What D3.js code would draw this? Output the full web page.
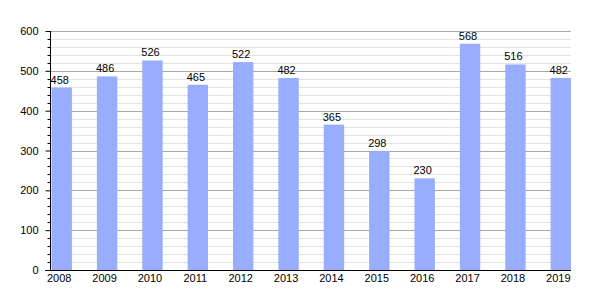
<!DOCTYPE html>
<html>
<head>
<meta charset="utf-8">
<script src="https://cdn.jsdelivr.net/npm/d3@7"></script>
<style>
  body { margin: 0; background: #fff; }
  svg text { font-family: "Liberation Sans", Arial, sans-serif; font-size: 11px; fill: #000; }
</style>
</head>
<body>
<div id="graphique"></div>
<script>
const annees = ["2008", "2009", "2010", "2011", "2012", "2013", "2014", "2015", "2016", "2017", "2018", "2019"];
const valeurs = [458, 486, 526, 465, 522, 482, 365, 298, 230, 568, 516, 482];
const ticksMajeurs = [0, 100, 200, 300, 400, 500, 600];

function AffichageGraph(data) {
    const width = 600, height = 300;
    const left = 50, right = 571, top = 31, bottom = 270;

    const svg = d3.select("#graphique").append("svg")
        .attr("width", width)
        .attr("height", height);

    const yScale = d3.scaleLinear()
        .domain([0, 600])
        .range([bottom, top]);

    const xScale = d3.scaleBand()
        .domain(data.map(d => d.annee))
        .range([left + 1.5, right])
        .paddingInner(0.55)
        .paddingOuter(0);

    // grille secondaire (tous les 20)
    svg.selectAll(".grid-minor")
        .data(d3.range(20, 600, 20).filter(v => v % 100 !== 0))
        .enter()
        .append("line")
        .attr("x1", left)
        .attr("x2", right)
        .attr("y1", d => Math.round(yScale(d)) + 0.5)
        .attr("y2", d => Math.round(yScale(d)) + 0.5)
        .style("stroke", "#e2e2e2")
        .style("stroke-width", 1);

    // grille principale
    svg.selectAll(".grid-major")
        .data(ticksMajeurs.filter(v => v > 0))
        .enter()
        .append("line")
        .attr("x1", left)
        .attr("x2", right)
        .attr("y1", d => Math.round(yScale(d)) + 0.5)
        .attr("y2", d => Math.round(yScale(d)) + 0.5)
        .style("stroke", "#a8a8a8")
        .style("stroke-width", 1);

    // barres
    svg.selectAll(".bar")
        .data(data)
        .enter()
        .append("rect")
        .attr("class", "bar")
        .attr("x", d => xScale(d.annee))
        .attr("y", d => yScale(d.valeur))
        .attr("width", xScale.bandwidth())
        .attr("height", d => bottom - yScale(d.valeur))
        .style("fill", "#99adff");

    // valeurs au dessus des barres
    svg.selectAll(".bar-text")
        .data(data)
        .enter()
        .append("text")
        .attr("class", "bar-text")
        .attr("x", d => xScale(d.annee) + xScale.bandwidth() / 2 - 2)
        .attr("y", d => yScale(d.valeur) - 4)
        .attr("text-anchor", "middle")
        .text(d => d.valeur);

    // axe y avec petits traits
    const yAxis = svg.append("g")
        .attr("transform", `translate(${left + 0.5},0)`)
        .call(d3.axisLeft(yScale).tickValues(ticksMajeurs).tickSize(5).tickPadding(7));
    yAxis.select(".domain").attr("d", `M0,${top}V${bottom}`).style("stroke", "#000");
    yAxis.selectAll(".tick line").style("stroke", "#000");
    yAxis.selectAll(".tick text").style("font-size", "11px").style("font-family", "Liberation Sans, Arial, sans-serif");

    svg.append("g")
        .attr("transform", `translate(${left + 0.5},0)`)
        .selectAll("line")
        .data(d3.range(20, 600, 20).filter(v => v % 100 !== 0))
        .enter()
        .append("line")
        .attr("x1", -3)
        .attr("x2", 0)
        .attr("y1", d => Math.round(yScale(d)) + 0.5)
        .attr("y2", d => Math.round(yScale(d)) + 0.5)
        .style("stroke", "#000");

    // axe x
    svg.append("line")
        .attr("x1", left - 5)
        .attr("x2", right)
        .attr("y1", bottom + 0.5)
        .attr("y2", bottom + 0.5)
        .style("stroke", "#000")
        .style("stroke-width", 1);

    svg.selectAll(".annee-text")
        .data(data)
        .enter()
        .append("text")
        .attr("class", "annee-text")
        .attr("x", d => xScale(d.annee) + xScale.bandwidth() / 2 - 2.5)
        .attr("y", bottom + 12)
        .attr("text-anchor", "middle")
        .text(d => d.annee);
}

AffichageGraph(annees.map((a, i) => ({ annee: a, valeur: valeurs[i] })));
</script>
</body>
</html>
